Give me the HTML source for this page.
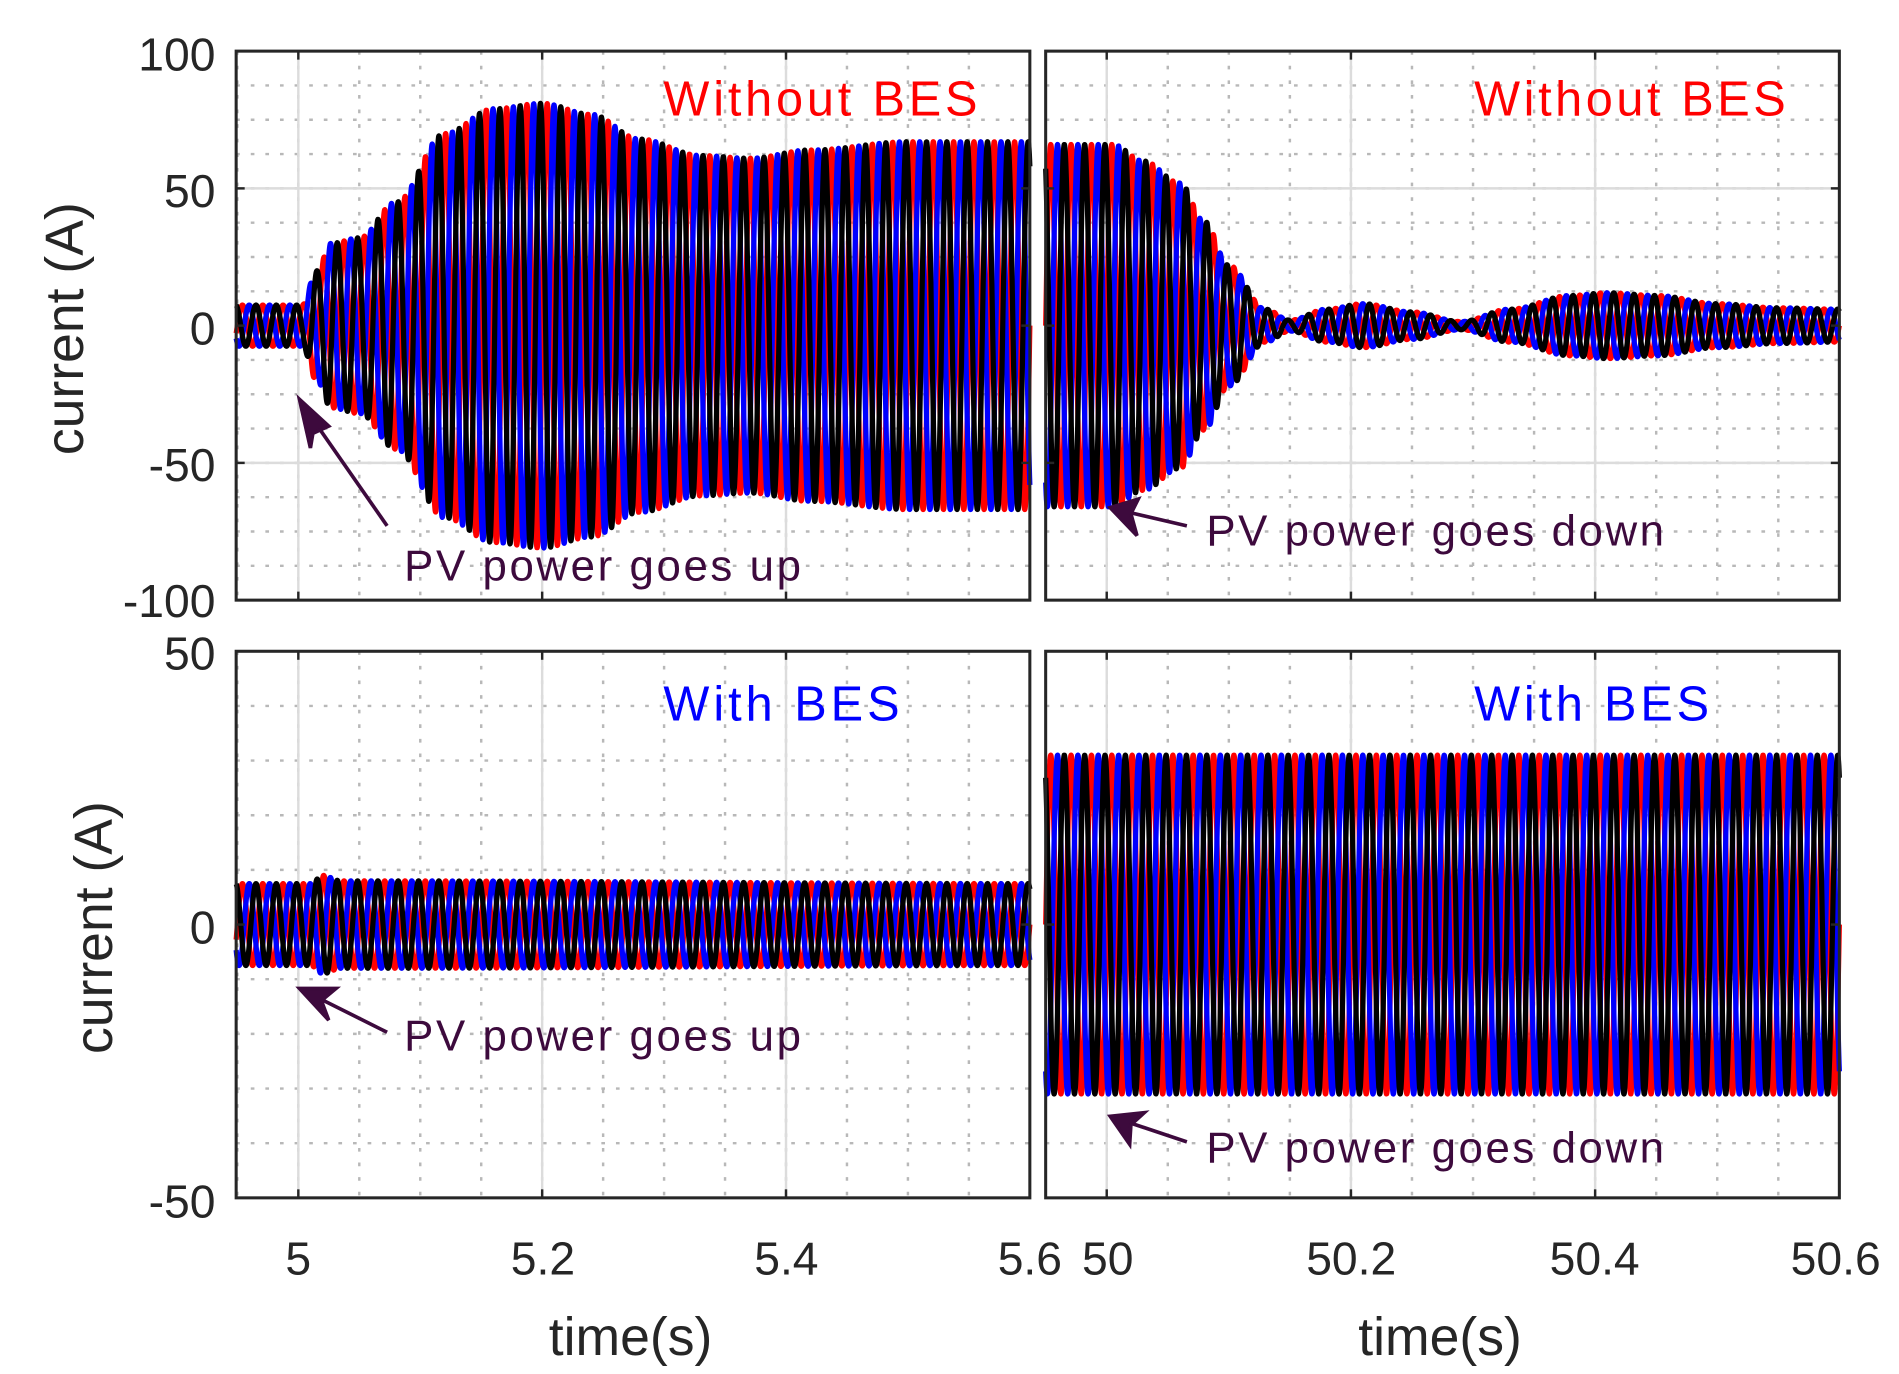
<!DOCTYPE html>
<html><head><meta charset="utf-8"><style>
html,body{margin:0;padding:0;background:#fff;}
svg{display:block;}
text{font-family:"Liberation Sans",Arial,sans-serif;}
</style></head><body>
<svg id="s" width="1899" height="1374" viewBox="0 0 1560 1128.7" preserveAspectRatio="none" xmlns="http://www.w3.org/2000/svg">
<rect width="1560" height="1129" fill="#fff"/>
<g id="grid"></g>
<g id="waves"></g>
<g id="frames" fill="none" stroke="#262626" stroke-width="2.5">
<rect x="194" y="42" width="652" height="451"/>
<rect x="859" y="42" width="652" height="451"/>
<rect x="194" y="535" width="652" height="449"/>
<rect x="859" y="535" width="652" height="449"/>
</g>
<g id="ticks" stroke="#262626" stroke-width="2"></g>
<g fill="#262626" font-size="38" text-anchor="end">
<text x="177" y="58">100</text><text x="177" y="170">50</text><text x="177" y="283">0</text><text x="177" y="395">-50</text><text x="177" y="507">-100</text>
<text x="177" y="550">50</text><text x="177" y="775">0</text><text x="177" y="1000">-50</text>
</g>
<g fill="#262626" font-size="38" text-anchor="middle">
<text x="245" y="1047">5</text><text x="446" y="1047">5.2</text><text x="646" y="1047">5.4</text><text x="846" y="1047">5.6</text>
<text x="910" y="1047">50</text><text x="1110" y="1047">50.2</text><text x="1310" y="1047">50.4</text><text x="1508" y="1047">50.6</text>
<text x="518" y="1113" font-size="44">time(s)</text><text x="1183" y="1113" font-size="44">time(s)</text>
<text transform="translate(68,270) rotate(-90)" font-size="44">current (A)</text>
<text transform="translate(92,762) rotate(-90)" font-size="44">current (A)</text>
</g>
<g font-size="40">
<text x="545" y="95" fill="#ff0000" textLength="258">Without BES</text>
<text x="1211" y="95" fill="#ff0000" textLength="256">Without BES</text>
<text x="545" y="592" fill="#0000ff" textLength="194">With BES</text>
<text x="1211" y="592" fill="#0000ff" textLength="193">With BES</text>
</g>
<g font-size="36" fill="#3d0a3d">
<text x="332" y="477" textLength="326">PV power goes up</text>
<text x="332" y="863" textLength="326">PV power goes up</text>
<text x="991" y="448" textLength="376">PV power goes down</text>
<text x="991" y="955" textLength="376">PV power goes down</text>
</g>
<g stroke="#3d0a3d" stroke-width="3" fill="#3d0a3d">
<line x1="318" y1="432" x2="256" y2="343"/><polygon points="246,328 270,350 257,356 255,368"/>
<line x1="318" y1="848" x2="260" y2="819"/><polygon points="246,812 276,812 264,822 270,838"/>
<line x1="975" y1="432" x2="928" y2="421"/><polygon points="912,417 935,410 929,422 934,440"/>
<line x1="975" y1="938" x2="927" y2="922"/><polygon points="912,917 940,914 929,924 928,940"/>
</g>
</svg>
<script>
(function(){
var NS="http://www.w3.org/2000/svg";
function el(p,n,a){var e=document.createElementNS(NS,n);for(var k in a)e.setAttribute(k,a[k]);p.appendChild(e);return e;}
var grid=document.getElementById('grid'),waves=document.getElementById('waves'),ticks=document.getElementById('ticks');
var panels=[
 {x0:194,x1:846,t0:4.949,t1:5.6,y0:42,y1:493,v0:100,v1:-100,maj:[5,5.2,5.4],ymaj:[50,0,-50],ymin:12.5,
  env:[[4.949,7.5],[5.003,7.5],[5.015,20],[5.027,30],[5.05,32],[5.08,45],[5.12,70],[5.16,79],[5.2,81],[5.24,77],[5.28,68],[5.33,62],[5.37,61],[5.42,64],[5.5,67],[5.6,67]]},
 {x0:859,x1:1511,t0:49.95,t1:50.6,y0:42,y1:493,v0:100,v1:-100,maj:[50,50.2,50.4],ymaj:[50,0,-50],ymin:12.5,
  env:[[49.95,66],[50.005,66],[50.03,60],[50.06,52],[50.08,38],[50.1,22],[50.13,6],[50.15,2],[50.18,6],[50.21,8],[50.25,5],[50.29,1.5],[50.33,6],[50.38,11],[50.41,12],[50.45,11],[50.5,8],[50.55,6.5],[50.6,6]]},
 {x0:194,x1:846,t0:4.949,t1:5.6,y0:535,y1:984,v0:50,v1:-50,maj:[5,5.2,5.4],ymaj:[0],ymin:10,
  env:[[4.949,7.5],[5.01,7.5],[5.02,9],[5.035,8],[5.06,8],[5.6,7.5]]},
 {x0:859,x1:1511,t0:49.95,t1:50.6,y0:535,y1:984,v0:50,v1:-50,maj:[50,50.2,50.4],ymaj:[0],ymin:10,
  env:[[49.95,31],[50.6,31]]}
];
panels.forEach(function(p){
 function X(t){return p.x0+(t-p.t0)/(p.t1-p.t0)*(p.x1-p.x0);}
 function Y(v){return p.y0+(p.v0-v)/(p.v0-p.v1)*(p.y1-p.y0);}
 for(var t=Math.ceil(p.t0/0.05)*0.05;t<p.t1-0.001;t+=0.05){
  var x=X(t);el(grid,'line',{x1:x,x2:x,y1:p.y0,y2:p.y1,stroke:'#b8b8b8','stroke-width':2,'stroke-dasharray':'3,9'});}
 for(var v=p.v1+p.ymin;v<p.v0-0.01;v+=p.ymin){
  var y=Y(v);el(grid,'line',{x1:p.x0,x2:p.x1,y1:y,y2:y,stroke:'#b8b8b8','stroke-width':2,'stroke-dasharray':'3,9'});}
 p.maj.forEach(function(t){var x=X(t);el(grid,'line',{x1:x,x2:x,y1:p.y0,y2:p.y1,stroke:'#dcdcdc','stroke-width':2});
  el(ticks,'line',{x1:x,x2:x,y1:p.y1,y2:p.y1-7});el(ticks,'line',{x1:x,x2:x,y1:p.y0,y2:p.y0+7});});
 p.ymaj.forEach(function(v){var y=Y(v);el(grid,'line',{x1:p.x0,x2:p.x1,y1:y,y2:y,stroke:'#dcdcdc','stroke-width':2});
  el(ticks,'line',{x1:p.x0,x2:p.x0+7,y1:y,y2:y});el(ticks,'line',{x1:p.x1,x2:p.x1-7,y1:y,y2:y});});
 function A(t){var e=p.env;if(t<=e[0][0])return e[0][1];for(var i=1;i<e.length;i++){if(t<=e[i][0]){var f=(t-e[i-1][0])/(e[i][0]-e[i-1][0]);f=(1-Math.cos(Math.PI*f))/2;return e[i-1][1]+f*(e[i][1]-e[i-1][1]);}}return e[e.length-1][1];}
 var cols=['#ff0000','#0000ff','#000000'],ph=[0,-2.094,2.094];
 [0,1,2].forEach(function(k){
  var d='',N=3000;
  for(var i=0;i<=N;i++){var t=p.t0+(p.t1-p.t0)*i/N;var v=A(t)*Math.sin(2*Math.PI*60*t+ph[k]);
   d+=(i?'L':'M')+X(t).toFixed(2)+','+Y(v).toFixed(2);}
  el(waves,'path',{d:d,fill:'none',stroke:cols[k],'stroke-width':4.3,'stroke-linejoin':'round'});
 });
});
})();
</script>
</body></html>
